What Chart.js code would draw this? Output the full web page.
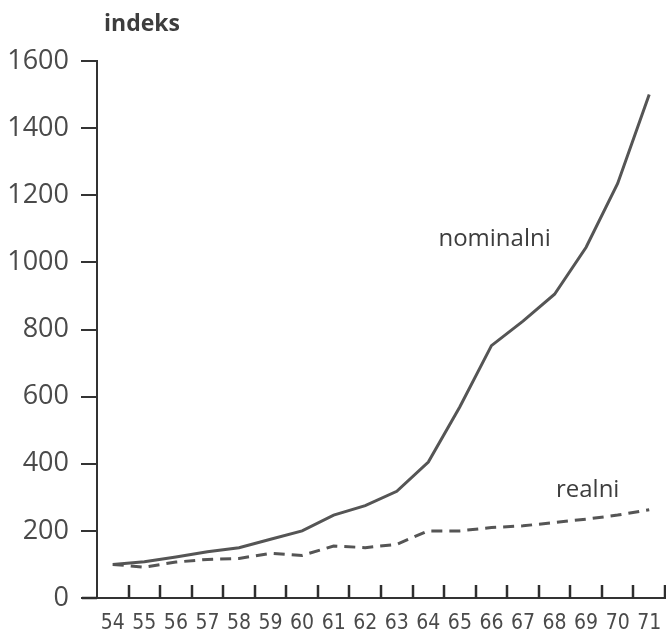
<!DOCTYPE html>
<html>
<head>
<meta charset="utf-8">
<script src="https://cdn.jsdelivr.net/npm/chart.js@4.4.0/dist/chart.umd.min.js"></script>
<style>
    html, body { margin: 0; padding: 0; background: #fff; }
    #wrap { width: 666px; height: 637px; }
</style>
</head>
<body>
<div id="wrap"><canvas id="grafik"></canvas></div>
<script>
const godine = ['54','55','56','57','58','59','60','61','62','63','64','65','66','67','68','69','70','71'];
const nominalni = [100, 108, 122, 138, 150, 175, 200, 247, 275, 318, 405, 570, 752, 825, 905, 1045, 1235, 1500];
const realni = [100, 92, 107, 115, 118, 133, 127, 155, 150, 160, 200, 200, 210, 215, 225, 235, 247, 263];

const boja = '#3d3d3d';
const bojaLinije = '#555555';

// crtice na x osi (prema gore) i tekst u grafiku
const oznake = {
    id: 'oznake',
    afterDraw(chart) {
        let ctx = chart.ctx;
        let x = chart.scales.x;
        let y = chart.scales.y;
        let dno = chart.chartArea.bottom;
        let korak = x.getPixelForValue(1) - x.getPixelForValue(0);
        ctx.save();
        ctx.setLineDash([]);
        ctx.strokeStyle = '#2e2e2e';
        ctx.lineWidth = 2.5;
        for (let i = 0; i < godine.length; i++) {
            let px = Math.round(x.getPixelForValue(i) + korak / 2);
            ctx.beginPath();
            ctx.moveTo(px, dno);
            ctx.lineTo(px, dno - 13);
            ctx.stroke();
        }
        // x os malo prelazi lijevo od y osi
        ctx.beginPath();
        ctx.moveTo(chart.chartArea.left - 15, dno);
        ctx.lineTo(chart.chartArea.left, dno);
        ctx.stroke();

        ctx.fillStyle = boja;
        ctx.font = 'bold 23px "Open Sans", "DejaVu Sans", sans-serif';
        ctx.textBaseline = 'middle';
        ctx.textAlign = 'left';
        ctx.fillText('indeks', chart.chartArea.left + 7, 24);
        ctx.font = '500 24px "Open Sans", "DejaVu Sans", sans-serif';
        ctx.textAlign = 'center';
        ctx.fillText('nominalni', x.getPixelForValue(12.1), y.getPixelForValue(1070));
        ctx.fillText('realni', x.getPixelForValue(15.05), y.getPixelForValue(322));
        ctx.restore();
    }
};

function napraviGrafik() {
    let platno = document.getElementById('grafik').getContext('2d');
    const data = {
        labels: godine,
        datasets: [{
            label: 'nominalni',
            data: nominalni,
            borderColor: bojaLinije,
            borderWidth: 3,
            pointRadius: 0,
            tension: 0,
            fill: false
        }, {
            label: 'realni',
            data: realni,
            borderColor: bojaLinije,
            borderWidth: 3,
            borderDash: [11, 7],
            pointRadius: 0,
            tension: 0,
            fill: false
        }]
    };
    const config = {
        type: 'line',
        data: data,
        options: {
            responsive: true,
            maintainAspectRatio: false,
            animation: false,
            layout: {
                padding: { top: 61, right: 1, bottom: 0, left: 0 }
            },
            plugins: {
                legend: { display: false },
                tooltip: { enabled: false }
            },
            scales: {
                x: {
                    offset: true,
                    border: { color: '#333', width: 2 },
                    grid: { display: false },
                    ticks: {
                        color: '#4a4a4a',
                        padding: 5,
                        maxRotation: 0,
                        autoSkip: false,
                        font: { family: '"Liberation Sans Narrow", "DejaVu Sans Condensed", sans-serif', size: 21 }
                    },
                    afterFit(scale) {
                        scale.height = 39;
                        scale.paddingLeft = 0;
                        scale.paddingRight = 0;
                    }
                },
                y: {
                    min: 0,
                    max: 1600,
                    border: { color: '#333', width: 2 },
                    grid: {
                        drawOnChartArea: false,
                        tickLength: 16,
                        color: '#333',
                        lineWidth: 2
                    },
                    ticks: {
                        stepSize: 200,
                        color: '#4a4a4a',
                        padding: 12,
                        font: { family: '"Open Sans", "DejaVu Sans", sans-serif', size: 27 },
                        callback: v => String(v)
                    },
                    afterFit(scale) { scale.width = 97; }
                }
            }
        },
        plugins: [oznake]
    };
    new Chart(platno, config);
}

napraviGrafik();
</script>
</body>
</html>
